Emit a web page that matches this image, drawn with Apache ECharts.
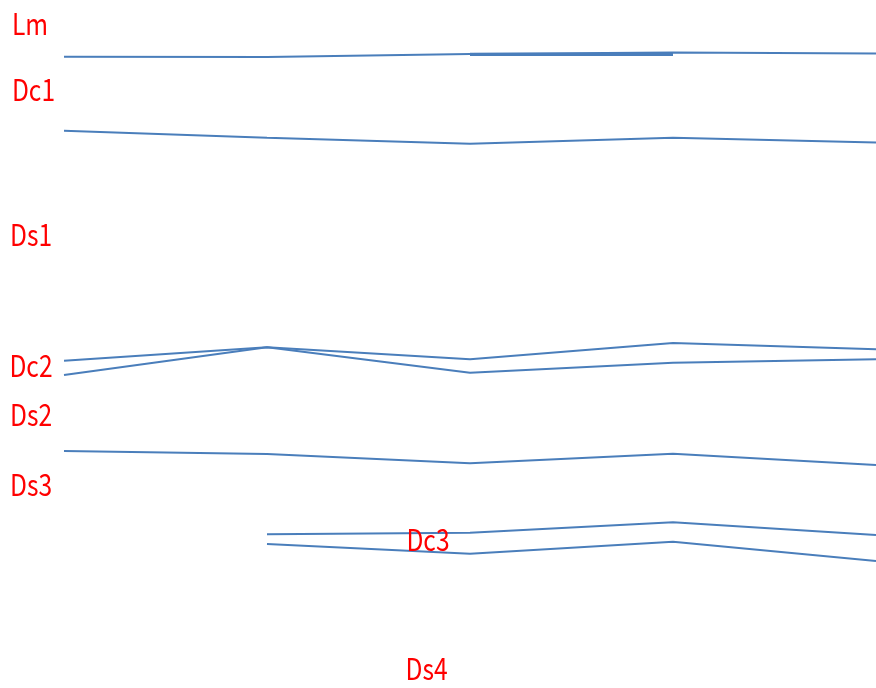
<!DOCTYPE html>
<html>
<head>
<meta charset="utf-8">
<script src="https://cdn.jsdelivr.net/npm/echarts@6/dist/echarts.min.js"></script>
<style>
html,body{margin:0;padding:0;background:#fff;}
#chart{width:876px;height:688px;}
</style>
</head>
<body>
<div id="chart"></div>
<script>
// Categories (5 stations along the profile)
var categories = ['1', '2', '3', '4', '5'];

// Level values (inverted axis, larger = lower)
var lineLm      = [56.7, 57, 54, 52.5, 53.5];
var lineLmThick = [null, null, 54.3, 54.3, null];
var lineDc1     = [130.7, 137.7, 143.7, 137.7, 142.5];
var lineDc2a    = [360.7, 347.3, 359.3, 343, 349.2];
var lineDc2b    = [375, 347.3, 372.7, 362.7, 359.2];
var lineDs2     = [451, 454, 463.3, 453.7, 465.1];
var lineDc3a    = [null, 534.3, 532.7, 522.3, 535.1];
var lineDc3b    = [null, 544, 553.7, 541.7, 560.9];

// Text labels
var labelNames = ['Lm', 'Dc1', 'Ds1', 'Dc2', 'Ds2', 'Ds3', 'Dc3', 'Ds4'];

var labelPos = [[30, 23.5], [33.5, 90], [31, 235], [31, 366], [31, 414.5], [31, 485], [428, 540], [426.5, 669]];

var lineColor = '#4a7ebb';
function mk(data, w) {
  return {
    type: 'line', data: data, symbol: 'none', silent: true,
    lineStyle: { color: lineColor, width: w || 2 },
    connectNulls: false
  };
}

var chart = echarts.init(document.getElementById('chart'), null, { renderer: 'canvas' });
chart.setOption({
  animation: false,
  backgroundColor: '#ffffff',
  grid: { left: 64, width: 818, top: 0, height: 688, containLabel: false },
  xAxis: {
    type: 'category', data: categories, boundaryGap: false, show: false
  },
  yAxis: {
    type: 'value', min: 0, max: 688, inverse: true, show: false
  },
  series: [
    mk(lineLm), mk(lineLmThick, 3.2), mk(lineDc1), mk(lineDc2a), mk(lineDc2b),
    mk(lineDs2), mk(lineDc3a), mk(lineDc3b)
  ],
  graphic: labelNames.map(function (t, i) {
    return {
      type: 'text', x: labelPos[i][0], y: labelPos[i][1], z: 100,
      scaleX: 0.82, scaleY: 1,
      style: {
        text: t, fill: '#ff0000',
        font: '30px "Noto Sans CJK JP", sans-serif',
        align: 'center', verticalAlign: 'middle'
      }
    };
  })
});
</script>
</body>
</html>
